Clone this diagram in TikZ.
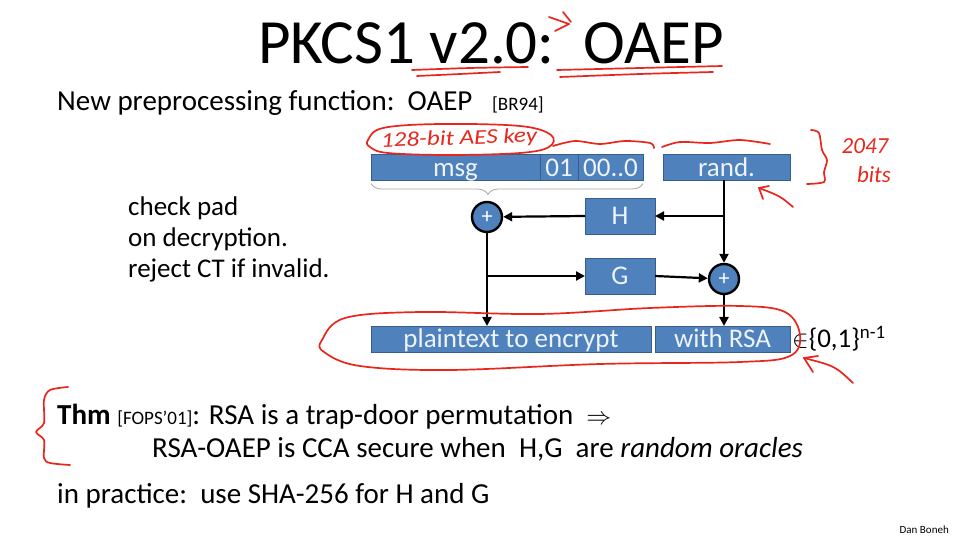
\documentclass[tikz,border=0pt]{standalone}
\usepackage{fontspec}
\setmainfont{Carlito}
\usepackage{tikz}
\usetikzlibrary{arrows.meta, positioning, decorations.pathreplacing}
\definecolor{slideblue}{HTML}{4F81BD}
\definecolor{slideedge}{HTML}{385D8A}
\definecolor{inkred}{HTML}{E8261C}
\tikzstyle{bitbox} = [rectangle, minimum height=26, inner sep=0pt, outer sep=0pt, text height=20pt, text depth=2pt, text centered, draw=slideedge, fill=slideblue, text=white!90!slideblue, font=\fontsize{27}{30}\selectfont]
\tikzstyle{hashbox} = [bitbox, minimum width=70, minimum height=36]
\tikzstyle{xorsum} = [circle, minimum size=30, inner sep=0pt, draw=black, line width=2.4pt, fill=slideblue, text=white, font=\fontsize{22}{24}\selectfont]
\tikzstyle{arrow} = [line width=2.2pt,->,>={Triangle[length=9pt,width=9pt]}]
\tikzstyle{slidetext} = [inner sep=0pt, anchor=base west, font=\fontsize{29}{33}\selectfont]
\tikzstyle{ink} = [inkred, line width=1.7pt, line cap=round, line join=round]

\begin{document}
\begin{tikzpicture}[x=1pt, y=-1pt]
        \useasboundingbox (0,0) rectangle (954,537);

        % Text
        \node (title) [inner sep=0pt, anchor=base, font=\fontsize{63}{74}\selectfont] at (491,64) {PKCS1 v2.0:\ \ OAEP};
        \node (intro) [slidetext] at (57,111) {New preprocessing function:\ \ OAEP\ \ \ {\fontsize{19}{22}\selectfont [BR94]}};
        \node (checkpad) [slidetext, align=left, anchor=north west, font=\fontsize{27}{31}\selectfont] at (128,197) {check pad\\on decryption.\\reject CT if invalid.};
        \node (thm) [slidetext] at (57,425) {\textbf{Thm} {\fontsize{19}{22}\selectfont [FOPS’01]}: RSA is a trap-door permutation\ \ $\Rightarrow$};
        \node (cca) [slidetext] at (152,457) {RSA-OAEP is CCA secure when\ \ H,G\ \ are \textit{random oracles}};
        \node (practice) [slidetext] at (57,503) {in practice:\ \ use SHA-256 for H and G};
        \node (author) [inner sep=0pt, anchor=base east, font=\fontsize{11}{12}\selectfont] at (949,533) {Dan Boneh};

        % Nodes
        \node (msg) [bitbox, minimum width=169] at (455.5,167.5) {msg};
        \node (ones) [bitbox, minimum width=38, right=0pt of msg] {01};
        \node (zeros) [bitbox, minimum width=65, right=0pt of ones] {00..0};
        \node (rand) [bitbox, minimum width=127] at (726.5,167.5) {rand.};
        \node (plusa) [xorsum] at (487,217) {+};
        \node (hbox) [hashbox] at (620,216) {H};
        \node (gbox) [hashbox] at (620,276) {G};
        \node (plusb) [xorsum] at (724,279) {+};
        \node (ptext) [bitbox, minimum width=280] at (511,339) {plaintext to encrypt};
        \node (rsa) [bitbox, minimum width=135] at (722.5,339) {with RSA};
        \node (member) [slidetext, anchor=west, font=\fontsize{27}{30}\selectfont] at (792,339) {$\in$\{0,1\}\textsuperscript{n-1}};

        % Arrows
        \draw [decorate, decoration={brace, mirror, amplitude=11pt, aspect=0.43}, gray!70, line width=0.8pt] ([yshift=-3pt]msg.south west) -- ([yshift=-3pt]zeros.south east);
        \draw [arrow] (plusb |- rand.south) -- (plusb);
        \draw [arrow] (hbox.east -| plusb) -- (hbox.east);
        \draw [arrow] (hbox.west) -- (plusa);
        \draw [arrow] (plusa) -- (plusa |- ptext.north);
        \draw [arrow] (plusa |- gbox.west) -- (gbox.west);
        \draw [arrow] (gbox.east) -- (plusb);
        \draw [arrow] (plusb) -- (plusb |- rsa.north);

        % Red ink
        \draw [ink] plot [smooth] coordinates {(412,70) (470,68) (528,67)};
        \draw [ink] plot [smooth] coordinates {(417,76) (460,74) (500,72)};
        \draw [ink] plot [smooth] coordinates {(557,70) (640,68) (722,66)};
        \draw [ink] plot [smooth] coordinates {(560,77) (640,74) (713,72)};
        \draw [ink] (549,17) -- (569,24) -- (555,31);
        \draw [ink] (563,12) -- (571,22);
        \draw [ink] plot [smooth cycle, tension=0.6] coordinates {(368,140) (383,128) (440,124) (520,126) (551,135) (549,147) (520,153) (450,155) (388,153) (370,147)};
        \node (aeskey) [text=inkred, inner sep=0pt, rotate=2, xscale=1.2, font=\fontsize{21}{23}\selectfont\itshape] at (459,139) {128-bit AES key};
        \draw [ink] plot [smooth] coordinates {(553,146) (575,141) (600,144) (625,141) (650,143) (654,148)};
        \draw [ink] plot [smooth] coordinates {(662,147) (680,142) (710,143) (740,140) (770,144)};
        \draw [ink] plot [smooth] coordinates {(811,130) (819,133) (822,150) (827,160) (824,172) (824,182) (807,184)};
        \node (twok) [text=inkred, inner sep=0pt, font=\fontsize{23}{25}\selectfont\itshape] at (865,146) {2047};
        \node (bits) [text=inkred, inner sep=0pt, font=\fontsize{23}{25}\selectfont\itshape] at (874,175) {bits};
        \draw [ink] (793,207) .. controls (780,196) .. (759,188);
        \draw [ink] (769,186) -- (759,188) -- (763,199);
        \draw [ink] plot [smooth cycle, tension=0.6] coordinates {(322,340) (345,318) (420,312) (540,314) (650,308) (740,306) (785,312) (800,335) (790,356) (740,362) (600,364) (450,370) (360,366) (324,352)};
        \draw [ink] (853,383) .. controls (835,366) .. (804,358);
        \draw [ink] (818,356) -- (804,358) -- (813,372);
        \draw [ink] plot [smooth] coordinates {(68,387) (50,390) (44,400) (44,423) (36,432) (44,440) (44,458) (50,463) (70,465)};

    \end{tikzpicture}
\end{document}
